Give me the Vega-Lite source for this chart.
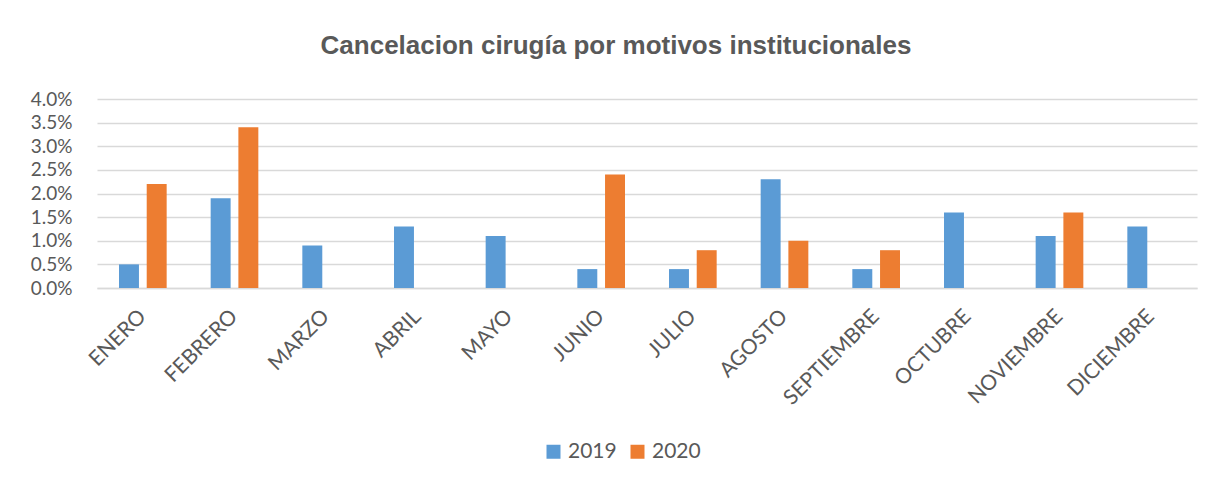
{
  "$schema": "https://vega.github.io/schema/vega-lite/v6.json",
  "autosize": "none",
  "width": 1100,
  "height": 189,
  "padding": {"left": 97, "top": 99, "right": 20, "bottom": 194},
  "background": "white",
  "title": {
    "text": "Cancelacion cirugía por motivos institucionales",
    "font": "Liberation Sans",
    "fontSize": 26,
    "fontWeight": "bold",
    "color": "#595959",
    "anchor": "middle",
    "offset": 31,
    "dx": -31
  },
  "data": {
    "values": [
      {"mes": "ENERO", "anio": "2019", "valor": 0.005},
      {"mes": "ENERO", "anio": "2020", "valor": 0.022},
      {"mes": "FEBRERO", "anio": "2019", "valor": 0.019},
      {"mes": "FEBRERO", "anio": "2020", "valor": 0.034},
      {"mes": "MARZO", "anio": "2019", "valor": 0.009},
      {"mes": "MARZO", "anio": "2020", "valor": 0},
      {"mes": "ABRIL", "anio": "2019", "valor": 0.013},
      {"mes": "ABRIL", "anio": "2020", "valor": 0},
      {"mes": "MAYO", "anio": "2019", "valor": 0.011},
      {"mes": "MAYO", "anio": "2020", "valor": 0},
      {"mes": "JUNIO", "anio": "2019", "valor": 0.004},
      {"mes": "JUNIO", "anio": "2020", "valor": 0.024},
      {"mes": "JULIO", "anio": "2019", "valor": 0.004},
      {"mes": "JULIO", "anio": "2020", "valor": 0.008},
      {"mes": "AGOSTO", "anio": "2019", "valor": 0.023},
      {"mes": "AGOSTO", "anio": "2020", "valor": 0.010},
      {"mes": "SEPTIEMBRE", "anio": "2019", "valor": 0.004},
      {"mes": "SEPTIEMBRE", "anio": "2020", "valor": 0.008},
      {"mes": "OCTUBRE", "anio": "2019", "valor": 0.016},
      {"mes": "OCTUBRE", "anio": "2020", "valor": 0},
      {"mes": "NOVIEMBRE", "anio": "2019", "valor": 0.011},
      {"mes": "NOVIEMBRE", "anio": "2020", "valor": 0.016},
      {"mes": "DICIEMBRE", "anio": "2019", "valor": 0.013},
      {"mes": "DICIEMBRE", "anio": "2020", "valor": 0}
    ]
  },
  "mark": {"type": "bar"},
  "encoding": {
    "x": {
      "field": "mes",
      "type": "nominal",
      "sort": null,
      "scale": {"paddingInner": 0.48, "paddingOuter": 0.24},
      "axis": {
        "title": null,
        "labelAngle": -45,
        "labelAlign": "right",
        "labelBaseline": "middle",
        "labelFont": "Lato",
        "labelFontSize": 21,
        "labelColor": "#595959",
        "labelPadding": 25,
        "ticks": false,
        "domainColor": "#d9d9d9",
        "domainWidth": 1.5
      }
    },
    "xOffset": {
      "field": "anio",
      "type": "nominal",
      "scale": {"domain": ["2019", "2020"], "paddingInner": 0.28, "paddingOuter": 0}
    },
    "y": {
      "field": "valor",
      "type": "quantitative",
      "scale": {"domain": [0, 0.04]},
      "axis": {
        "title": null,
        "format": ".1%",
        "values": [0, 0.005, 0.01, 0.015, 0.02, 0.025, 0.03, 0.035, 0.04],
        "labelFont": "Lato",
        "labelFontSize": 19,
        "labelColor": "#595959",
        "labelPadding": 25,
        "ticks": false,
        "domain": false,
        "gridColor": "#d9d9d9",
        "gridWidth": 1.5
      }
    },
    "color": {
      "field": "anio",
      "type": "nominal",
      "scale": {"domain": ["2019", "2020"], "range": ["#5b9bd5", "#ed7d31"]},
      "legend": {
        "title": null,
        "orient": "none",
        "legendX": 446,
        "legendY": 342,
        "direction": "horizontal",
        "symbolType": "square",
        "symbolSize": 196,
        "symbolStrokeWidth": 0,
        "labelFont": "Lato",
        "labelFontSize": 21,
        "labelColor": "#595959",
        "columnPadding": 10,
        "labelOffset": 4
      }
    }
  },
  "config": {"view": {"stroke": null}}
}
